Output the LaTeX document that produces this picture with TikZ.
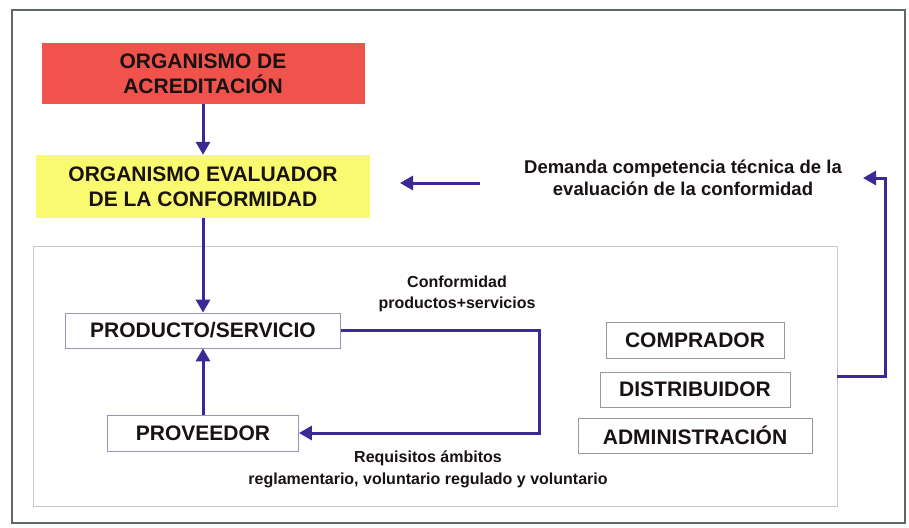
\documentclass[tikz,border=0pt]{standalone}
\usepackage{fontspec}
\setmainfont{Liberation Sans}
\usetikzlibrary{arrows.meta}
\definecolor{conn}{RGB}{58,42,150}
\definecolor{redbox}{RGB}{240,82,76}
\definecolor{yellowbox}{RGB}{250,250,112}
\definecolor{txt}{RGB}{25,18,18}
\definecolor{frame}{RGB}{95,105,100}
\definecolor{inner}{RGB}{200,200,200}
\definecolor{boxline}{RGB}{150,150,185}
\tikzset{
  conn/.style={draw=conn,line width=3pt,-{Triangle[width=14pt,length=13pt]}},
  bigbox/.style={inner sep=0pt,align=center,text=txt,font=\fontsize{21}{25}\selectfont\bfseries},
  wbox/.style={draw=boxline,line width=0.8pt,fill=white,inner sep=0pt,text=txt,font=\fontsize{21}{25}\selectfont\bfseries},
  lbl/.style={align=center,text=txt,inner sep=0pt,font=\fontsize{16}{22}\selectfont\bfseries}
}
\begin{document}
\begin{tikzpicture}[x=1pt,y=-1pt]
\useasboundingbox (0,0) rectangle (909,527);
\fill[white] (0,0) rectangle (909,527);
\draw[frame,line width=1.6pt] (12,10) rectangle (905,523);
\node[draw=inner,line width=0.8pt,minimum width=804pt,minimum height=260pt,inner sep=0pt] (group) at (435,376) {};
\node[bigbox,fill=redbox,minimum width=323pt,minimum height=61pt] (acred) at (203,73.5) {ORGANISMO DE\\ACREDITACIÓN};
\node[bigbox,fill=yellowbox,minimum width=334pt,minimum height=63pt] (eval) at (203,186.5) {ORGANISMO EVALUADOR\\DE LA CONFORMIDAD};
\node[wbox,minimum width=275pt,minimum height=35pt] (prod) at (203,330.5) {PRODUCTO/SERVICIO};
\node[wbox,minimum width=191pt,minimum height=36pt] (prov) at (203,433) {PROVEEDOR};
\node[wbox,draw=gray!80,minimum width=178pt,minimum height=36pt] (comp) at (695,340) {COMPRADOR};
\node[wbox,draw=gray!80,minimum width=190pt,minimum height=35pt] (dist) at (695,389.5) {DISTRIBUIDOR};
\node[wbox,draw=gray!80,minimum width=234pt,minimum height=35pt] (admin) at (695,435.5) {ADMINISTRACIÓN};
\node[lbl,font=\fontsize{18.5}{22}\selectfont\bfseries] (dem) at (683,177.5) {Demanda competencia técnica de la\\evaluación de la conformidad};
\node[lbl,font=\fontsize{16}{21}\selectfont\bfseries] (conf) at (457,294) {Conformidad\\productos+servicios};
\node[lbl] (req) at (428,469.5) {Requisitos ámbitos\\reglamentario, voluntario regulado y voluntario};
\coordinate (da) at (480,183);
\coordinate (db) at (400,183);
\coordinate (ra) at (885,376);
\coordinate (rb) at (885,178);
\coordinate (rc) at (863,178);
\coordinate (la) at (539,330.5);
\coordinate (lb) at (539,433);
\draw[conn] (acred.south) -- (eval.north);
\draw[conn] (eval.south) -- (prod.north);
\draw[conn] (prov.north) -- (prod.south);
\draw[conn] (da) -- (db);
\draw[conn] (group.east) -- (ra) -- (rb) -- (rc);
\draw[conn] (prod.east) -- (la) -- (lb) -- (prov.east);
\end{tikzpicture}
\end{document}
